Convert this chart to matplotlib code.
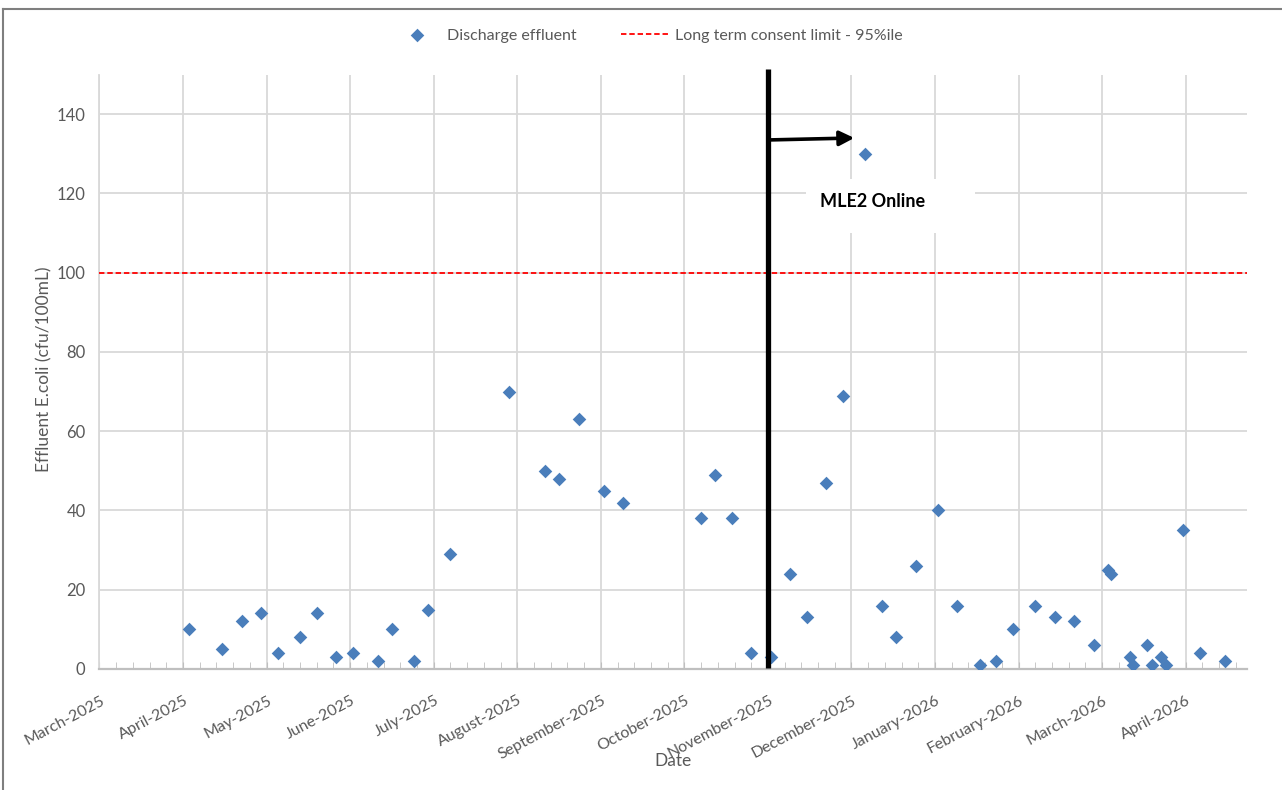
import numpy as np
import matplotlib
matplotlib.use("Agg")
import matplotlib.pyplot as plt
import matplotlib.transforms as mtransforms
from matplotlib.ticker import MultipleLocator, FixedLocator
from matplotlib.lines import Line2D
from matplotlib.patches import Rectangle

plt.rcParams['font.family'] = ['Lato', 'DejaVu Sans']

# sample day counted from 1 March 2025, and E.coli result (cfu/100mL)
sample_day = [32, 44, 51, 58, 64, 72, 78, 85, 91, 100, 105, 113, 118, 126,
              147, 160, 165, 172, 181, 188, 216, 221, 227, 234, 241, 248,
              254, 261, 267, 275, 281, 286, 293, 301, 308, 316, 322, 328,
              336, 343, 350, 357, 362, 363, 370, 371, 376, 378, 381, 383,
              389, 395, 404]
ecoli = [10, 5, 12, 14, 4, 8, 14, 3, 4, 2, 10, 2, 15, 29,
         70, 50, 48, 63, 45, 42, 38, 49, 38, 4, 3, 24,
         13, 47, 69, 130, 16, 8, 26, 40, 16, 1, 2, 10,
         16, 13, 12, 6, 25, 24, 3, 1, 6, 1, 3, 1,
         35, 4, 2]

consent_limit = 100
mle2_day = 240   # MLE2 came online

month_labels = ['March-2025', 'April-2025', 'May-2025', 'June-2025', 'July-2025',
                'August-2025', 'September-2025', 'October-2025', 'November-2025',
                'December-2025', 'January-2026', 'February-2026', 'March-2026',
                'April-2026']
month_ticks = np.arange(len(month_labels)) * 30

grey = '#595959'
grid_col = '#d9d9d9'

fig = plt.figure(figsize=(12.82, 7.90), dpi=100)
ax = fig.add_axes([0.0776, 0.1532, 0.8951, 0.7524])

ax.scatter(sample_day, ecoli, marker='D', s=48, color='#4a7ebb', zorder=4,
           linewidths=0, label='Discharge effluent')
ax.axhline(consent_limit, color='red', lw=1.3, ls=(0, (3, 1.6)), zorder=3,
           label='Long term consent limit - 95%ile')

ax.set_xlim(0, 412)
ax.set_ylim(0, 150)
ax.xaxis.set_major_locator(FixedLocator(month_ticks))
ax.xaxis.set_minor_locator(MultipleLocator(6))
ax.set_xticklabels(month_labels)
ax.yaxis.set_major_locator(FixedLocator(np.arange(0, 141, 20)))

ax.grid(True, which='major', color=grid_col, lw=1.3, zorder=0)
ax.set_axisbelow(True)
for s in ['top', 'right']:
    ax.spines[s].set_visible(False)
ax.spines['left'].set_color(grid_col)
ax.spines['left'].set_linewidth(1.3)
ax.spines['bottom'].set_color('#bfbfbf')
ax.spines['bottom'].set_linewidth(1.6)

ax.tick_params(axis='x', which='both', direction='in', color='#bfbfbf',
               labelcolor=grey, labelsize=11.5, pad=22)
ax.tick_params(axis='x', which='major', length=5)
ax.tick_params(axis='x', which='minor', length=5)
ax.tick_params(axis='y', length=0, labelcolor=grey, labelsize=12, pad=10)
nudge = mtransforms.ScaledTranslation(4 / 100, 0, fig.dpi_scale_trans)
for lab in ax.get_xticklabels():
    lab.set_rotation(28)
    lab.set_ha('right')
    lab.set_va('center')
    lab.set_rotation_mode('anchor')
    lab.set_transform(lab.get_transform() + nudge)

ax.set_ylabel('Effluent E.coli (cfu/100mL)', color=grey, fontsize=12.5)
ax.yaxis.set_label_coords(-0.041, 0.505)
ax.set_xlabel('Date', color=grey, fontsize=12.5)
ax.xaxis.set_label_coords(0.5, -0.142)

# MLE2 start marker line and arrow
ax.plot([mle2_day, mle2_day], [0.3, 151.5], color='black', lw=3.8,
        solid_capstyle='butt', clip_on=False, zorder=5)
ax.annotate('', xy=(271, 134), xytext=(mle2_day, 133.5),
            arrowprops=dict(arrowstyle='-|>', color='black', lw=2.6,
                            mutation_scale=22, shrinkA=0, shrinkB=0),
            zorder=5)
ax.add_patch(Rectangle((253.5, 110), 61, 13.6, facecolor='white',
                       edgecolor='none', zorder=2))
ax.text(277.5, 118, 'MLE2 Online', fontsize=13, fontweight='bold',
        ha='center', va='center', color='black', zorder=6)

fig.legend(loc='center', bbox_to_anchor=(0.5055, 0.955), ncol=2, frameon=False,
           fontsize=11.5, labelcolor=grey, handlelength=2.95, columnspacing=2.8,
           handletextpad=0.4)

# chart frame
fig.add_artist(Line2D([3 / 1282, 3 / 1282], [0, 1 - 9 / 790], color='#7f7f7f',
                      lw=1.5, transform=fig.transFigure))
fig.add_artist(Line2D([3 / 1282, 1], [1 - 9 / 790, 1 - 9 / 790],
                      color='#7f7f7f', lw=1.5, transform=fig.transFigure))

fig.savefig('out.png', dpi=100)
